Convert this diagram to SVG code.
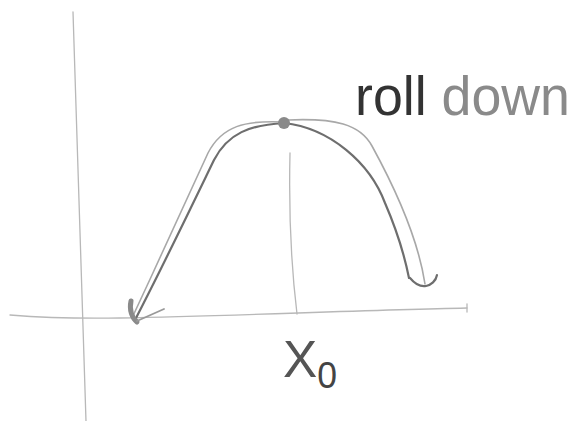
<svg xmlns="http://www.w3.org/2000/svg" width="577" height="421" viewBox="0 0 577 421">
<style>
.axis{fill:none;stroke:#b8b8b8;stroke-width:1.3;stroke-linecap:round}
.curve{fill:none;stroke:#6e6e6e;stroke-width:2.2;stroke-linecap:round;stroke-linejoin:round}
.light{fill:none;stroke:#a8a8a8;stroke-width:1.6;stroke-linecap:round}
.hand{font-family:"Liberation Sans","DejaVu Sans",sans-serif;fill:#555}
</style>
<rect width="577" height="421" fill="#fff"/>
<g id="axes">
<path class="axis" d="M73 12 Q79 215 86 421"/>
<path class="axis" d="M10 315 Q60 319 120 318 T298 313 T467 308"/>
<path class="axis" d="M467 304 L467 312"/>
</g>
<g id="drop-line">
<path class="axis" d="M290 153 Q288 240 297 314"/>
</g>
<g id="connectors">
<path class="curve" d="M284 123 C250 125 228 133 214 160 C198 193 165 262 135 320"/>
<path class="light" d="M284 122 C245 120 222 126 208 153 C192 188 160 258 132 318"/>
<path class="curve" d="M284 123 C330 128 370 163 385 203 C398 233 405 258 409 278"/>
<path class="light" d="M288 120 C335 118 360 124 372 146 C395 188 418 238 425 284"/>
<path d="M131 301 C129 310 132 318 137 322" fill="none" stroke="#8a8a8a" stroke-width="5" stroke-linecap="round"/>
<path d="M137 321 L164 309" fill="none" stroke="#999" stroke-width="1.8" stroke-linecap="round"/>
<path class="curve" d="M410 278 C415 284 420 287 426 286 C431 285 436 281 437 275" stroke="#444"/>
</g>
<g id="top-point">
<circle cx="284" cy="123" r="6" fill="#8a8a8a"/>
</g>
<g id="label-roll-down">
<text class="hand" x="355" y="115" font-size="56" textLength="215" lengthAdjust="spacingAndGlyphs"><tspan fill="#333">roll</tspan><tspan fill="#8a8a8a"> down</tspan></text>
</g>
<g id="label-x0">
<text class="hand" x="283" y="377" font-size="52" fill="#333" textLength="54" lengthAdjust="spacingAndGlyphs">X<tspan font-size="36" dy="11" fill="#444">0</tspan></text>
</g>
</svg>
